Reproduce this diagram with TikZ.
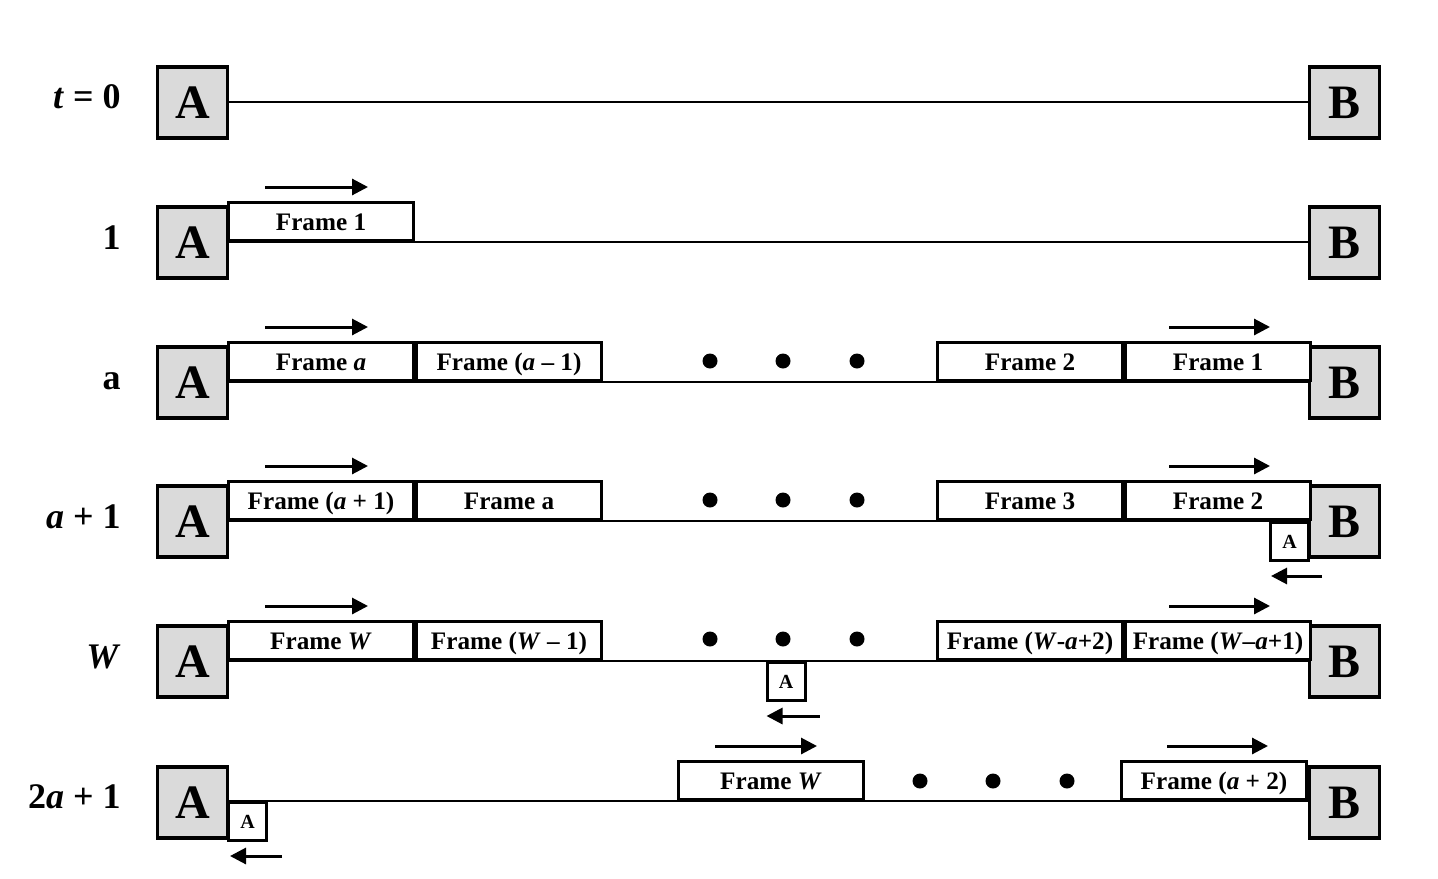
\documentclass[tikz,border=0pt]{standalone}
\usepackage{fontspec}
\setmainfont{Liberation Serif}
\usetikzlibrary{arrows.meta,calc}
\definecolor{boxgray}{RGB}{218,218,218}
\begin{document}
\begin{tikzpicture}[x=0.5pt,y=-0.5pt,
  station/.style={draw, fill=boxgray, line width=1.6pt, minimum width=35pt,
    minimum height=35.5pt, inner sep=0pt, font=\bfseries\fontsize{24}{24}\selectfont},
  frm/.style={draw, fill=white, line width=1.5pt, minimum width=92.5pt,
    minimum height=19pt, inner sep=0pt, text height=10pt, text depth=1pt,
    font=\bfseries\fontsize{12.6}{13}\selectfont},
  ack/.style={draw, fill=white, line width=1.5pt, minimum width=19pt,
    minimum height=19pt, inner sep=0pt, font=\bfseries\fontsize{10}{10}\selectfont},
  rowlabel/.style={anchor=base east, inner sep=0pt, font=\bfseries\fontsize{18}{18}\selectfont},
  link/.style={line width=1.4pt},
  fwd/.style={line width=1.5pt, -{Triangle[length=8pt,width=8pt]}},
  dotmark/.style={circle, fill=black, inner sep=0pt, minimum size=7.5pt}]

\useasboundingbox (0,0) rectangle (1438,878);

% ---- row t = 0 ----
\node[station] (A0) at (192.5,102.5) {A};
\node[station] (B0) at (1344.5,102.5) {B};
\draw[link] (A0.east |- 0,102) -- (B0.west |- 0,102);
\node[rowlabel] (L0) at (121,108) {\textit{t} = 0};

% ---- row 1 ----
\node[station] (A1) at (192.5,242.5) {A};
\node[station] (B1) at (1344.5,242.5) {B};
\draw[link] (A1.east |- 0,242) -- (B1.west |- 0,242);
\node[rowlabel] (L1) at (121,249) {1};
\node[frm, anchor=south west] (f11) at (227,242) {Frame 1};
\draw[fwd] ($(f11.north west)+(38,-14)$) -- +(103,0);

% ---- row a ----
\node[station] (A2) at (192.5,382.5) {A};
\node[station] (B2) at (1344.5,382.5) {B};
\draw[link] (A2.east |- 0,382) -- (B2.west |- 0,382);
\node[rowlabel] (L2) at (121,389) {a};
\node[frm, anchor=south west] (f21) at (227,382) {Frame \textit{a}};
\node[frm, anchor=south west] (f22) at (f21.south east) {Frame (\textit{a} – 1)};
\node[frm, anchor=south west] (f23) at (936,382) {Frame 2};
\node[frm, anchor=south west] (f24) at (f23.south east) {Frame 1};
\draw[fwd] ($(f21.north west)+(38,-14)$) -- +(103,0);
\draw[fwd] ($(f24.north west)+(45,-14)$) -- +(101,0);
\node[dotmark] (d21) at (710,361) {};
\node[dotmark] (d22) at (783,361) {};
\node[dotmark] (d23) at (857,361) {};

% ---- row a + 1 ----
\node[station] (A3) at (192.5,521.5) {A};
\node[station] (B3) at (1344.5,521.5) {B};
\draw[link] (A3.east |- 0,521) -- (B3.west |- 0,521);
\node[rowlabel] (L3) at (121,528) {\textit{a} + 1};
\node[frm, anchor=south west] (f31) at (227,521) {Frame (\textit{a} + 1)};
\node[frm, anchor=south west] (f32) at (f31.south east) {Frame a};
\node[frm, anchor=south west] (f33) at (936,521) {Frame 3};
\node[frm, anchor=south west] (f34) at (f33.south east) {Frame 2};
\draw[fwd] ($(f31.north west)+(38,-14)$) -- +(103,0);
\draw[fwd] ($(f34.north west)+(45,-14)$) -- +(101,0);
\node[dotmark] (d31) at (710,500) {};
\node[dotmark] (d32) at (783,500) {};
\node[dotmark] (d33) at (857,500) {};
\node[ack, anchor=north east] (k3) at (1310,521) {A};
\draw[fwd] ($(k3.south east)+(12,14)$) -- +(-51,0);

% ---- row W ----
\node[station] (A4) at (192.5,661.5) {A};
\node[station] (B4) at (1344.5,661.5) {B};
\draw[link] (A4.east |- 0,661) -- (B4.west |- 0,661);
\node[rowlabel] (L4) at (121,668) {\textit{W}};
\node[frm, anchor=south west] (f41) at (227,661) {Frame \textit{W}};
\node[frm, anchor=south west] (f42) at (f41.south east) {Frame (\textit{W} – 1)};
\node[frm, anchor=south west] (f43) at (936,661) {Frame (\textit{W}-\textit{a}+2)};
\node[frm, anchor=south west] (f44) at (f43.south east) {Frame (\textit{W}–\textit{a}+1)};
\draw[fwd] ($(f41.north west)+(38,-14)$) -- +(103,0);
\draw[fwd] ($(f44.north west)+(45,-14)$) -- +(101,0);
\node[dotmark] (d41) at (710,639) {};
\node[dotmark] (d42) at (783,639) {};
\node[dotmark] (d43) at (857,639) {};
\node[ack, anchor=north] (k4) at (786,661) {A};
\draw[fwd] ($(k4.south east)+(13,14)$) -- +(-53,0);

% ---- row 2a + 1 ----
\node[station] (A5) at (192.5,802.5) {A};
\node[station] (B5) at (1344.5,802.5) {B};
\draw[link] (A5.east |- 0,801) -- (B5.west |- 0,801);
\node[rowlabel] (L5) at (121,808) {2\textit{a} + 1};
\node[frm, anchor=south west] (f51) at (677,801) {Frame \textit{W}};
\node[frm, anchor=south west] (f52) at (1120,801) {Frame (\textit{a} + 2)};
\draw[fwd] ($(f51.north west)+(38,-14)$) -- +(102,0);
\draw[fwd] ($(f52.north west)+(47,-14)$) -- +(101,0);
\node[dotmark] (d51) at (920,781) {};
\node[dotmark] (d52) at (993,781) {};
\node[dotmark] (d53) at (1067,781) {};
\node[ack, anchor=north west] (k5) at (227,801) {A};
\draw[fwd] ($(k5.south east)+(14,14)$) -- +(-52,0);

\end{tikzpicture}
\end{document}
